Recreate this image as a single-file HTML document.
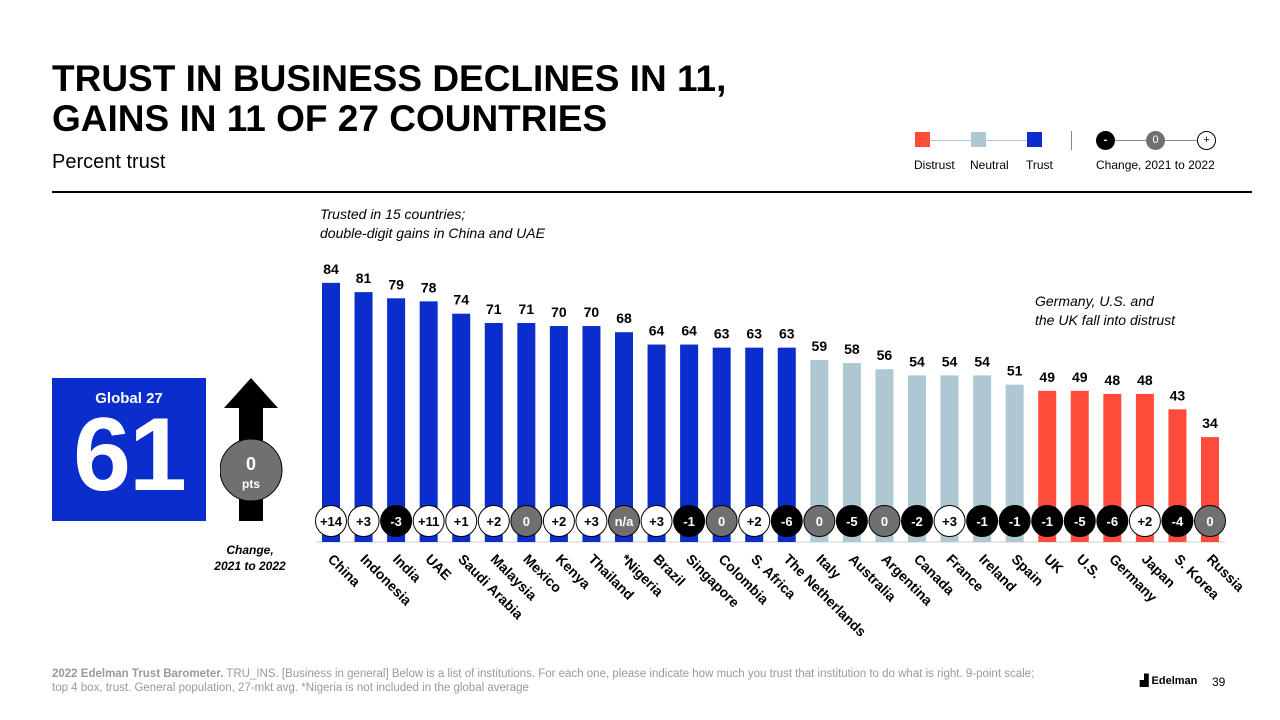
<!DOCTYPE html>
<html><head><meta charset="utf-8"><style>
body{margin:0;width:1280px;height:720px;background:#fff;font-family:"Liberation Sans",Arial,sans-serif;position:relative;overflow:hidden}
.abs{position:absolute}
</style></head><body>
<div class="abs" style="left:52px;top:59px;font-size:37px;font-weight:bold;line-height:40px;color:#000">TRUST IN BUSINESS DECLINES IN 11,<br>GAINS IN 11 OF 27 COUNTRIES</div>
<div class="abs" style="left:52px;top:151px;font-size:20px">Percent trust</div>
<div class="abs" style="left:52px;top:191px;width:1200px;height:2px;background:#000"></div>
<div class="abs" style="left:320px;top:205px;font-size:14px;font-style:italic;line-height:19px">Trusted in 15 countries;<br>double-digit gains in China and UAE</div>
<div class="abs" style="left:1035px;top:292px;font-size:14px;font-style:italic;line-height:19px">Germany, U.S. and<br>the UK fall into distrust</div>

<div class="abs" style="left:900px;top:120px;width:340px;height:60px;font-size:12px">
 <div class="abs" style="left:16px;top:20px;width:112px;height:1px;background:#b8c4cc"></div>
 <div class="abs" style="left:15px;top:12px;width:15px;height:15px;background:#ff4b3a"></div>
 <div class="abs" style="left:71px;top:12px;width:15px;height:15px;background:#aec8d3"></div>
 <div class="abs" style="left:127px;top:12px;width:15px;height:15px;background:#0a2dcc"></div>
 <div class="abs" style="left:14px;top:38px">Distrust</div>
 <div class="abs" style="left:70px;top:38px">Neutral</div>
 <div class="abs" style="left:126px;top:38px">Trust</div>
 <div class="abs" style="left:171px;top:11px;width:1px;height:19px;background:#888"></div>
 <div class="abs" style="left:205px;top:20px;width:102px;height:1px;background:#888"></div>
 <div class="abs" style="left:196px;top:11px;width:19px;height:19px;border-radius:50%;background:#000;color:#fff;text-align:center;line-height:18px;font-size:11px;font-weight:bold">-</div>
 <div class="abs" style="left:246px;top:11px;width:19px;height:19px;border-radius:50%;background:#707070;color:#fff;text-align:center;line-height:19px;font-size:11px">0</div>
 <div class="abs" style="left:297px;top:11px;width:17px;height:17px;border-radius:50%;border:1px solid #000;background:#fff;text-align:center;line-height:17px;font-size:11px">+</div>
 <div class="abs" style="left:196px;top:38px">Change, 2021 to 2022</div>
</div>

<div class="abs" style="left:52px;top:378px;width:154px;height:143px;background:#0a2dcc;color:#fff;text-align:center">
 <div style="font-size:15px;font-weight:bold;margin-top:12px">Global 27</div>
 <div style="font-size:104px;font-weight:bold;line-height:96px;letter-spacing:-2px">61</div>
</div>
<svg class="abs" style="left:220px;top:370px" width="70" height="160">
 <polygon points="31,8 58,38 43,38 43,151 19,151 19,38 4,38" fill="#000"/>
 <circle cx="31" cy="100" r="31" fill="#707070" stroke="#000" stroke-width="1"/>
 <text x="31" y="100" fill="#fff" font-size="18" font-weight="bold" text-anchor="middle" font-family="Liberation Sans">0</text>
 <text x="31" y="118" fill="#fff" font-size="12" font-weight="bold" text-anchor="middle" font-family="Liberation Sans">pts</text>
</svg>
<div class="abs" style="left:200px;top:542px;width:100px;text-align:center;font-size:12px;font-weight:bold;font-style:italic;line-height:16px">Change,<br>2021 to 2022</div>

<svg id="chart" class="abs" style="left:0;top:0" width="1280" height="720"></svg>

<div class="abs" style="left:52px;top:667px;width:1000px;font-size:11.5px;color:#999;line-height:14px"><b>2022 Edelman Trust Barometer.</b> TRU_INS. [Business in general] Below is a list of institutions. For each one, please indicate how much you trust that institution to do what is right. 9-point scale; top 4 box, trust. General population, 27-mkt avg. *Nigeria is not included in the global average</div>
<div class="abs" style="left:1140px;top:674px;font-size:11px;font-weight:bold">▟ Edelman</div>
<div class="abs" style="left:1212px;top:675px;font-size:12px">39</div>

<script>
const countries=["China","Indonesia","India","UAE","Saudi Arabia","Malaysia","Mexico","Kenya","Thailand","*Nigeria","Brazil","Singapore","Colombia","S. Africa","The Netherlands","Italy","Australia","Argentina","Canada","France","Ireland","Spain","UK","U.S.","Germany","Japan","S. Korea","Russia"];
const values=[84,81,79,78,74,71,71,70,70,68,64,64,63,63,63,59,58,56,54,54,54,51,49,49,48,48,43,34];
const changes=["+14","+3","-3","+11","+1","+2","0","+2","+3","n/a","+3","-1","0","+2","-6","0","-5","0","-2","+3","-1","-1","-1","-5","-6","+2","-4","0"];
const svg=document.getElementById('chart');const NS="http://www.w3.org/2000/svg";
const base=542,scale=3.085,x0=331,step=(1210-331)/27,bw=18;
const xs=i=>x0+i*step, ys=v=>base-v*scale;
function mk(t,a){const e=document.createElementNS(NS,t);for(const k in a)e.setAttribute(k,a[k]);svg.appendChild(e);return e;}
const bl=mk('line',{x1:316,x2:1225,y1:base,y2:base,stroke:'#ccc','stroke-width':1});


values.forEach((v,i)=>{
 const c=v>=60?'#0a2dcc':(v>=50?'#aec8d3':'#ff4b3a');
 const r=mk('rect',{x:xs(i)-bw/2,y:ys(v),width:bw,height:base-ys(v),fill:c});
 
 
 const t=mk('text',{x:xs(i),y:ys(v)-9,'text-anchor':'middle','font-size':14,'font-weight':'bold','font-family':'Liberation Sans'});t.textContent=v;
 
 
 const ch=changes[i];const neg=ch[0]=='-',zero=(ch=='0'||ch=='n/a');
 const ci=mk('circle',{cx:xs(i),cy:521,r:15.5,fill:neg?'#000':(zero?'#707070':'#fff'),stroke:'#000','stroke-width':1});
 
 
 const ct=mk('text',{x:xs(i),y:526,'text-anchor':'middle','font-size':13,'font-weight':'bold','font-family':'Liberation Sans',fill:(neg||zero)?'#fff':'#000'});ct.textContent=ch;
 
 
 const lx=xs(i)-4,ly=560;
 const lt=mk('text',{x:lx,y:ly,'font-size':14,'font-weight':'bold','font-family':'Liberation Sans',transform:`rotate(45 ${lx} ${ly})`});lt.textContent=countries[i];
 
 
});
</script>
</body></html>
